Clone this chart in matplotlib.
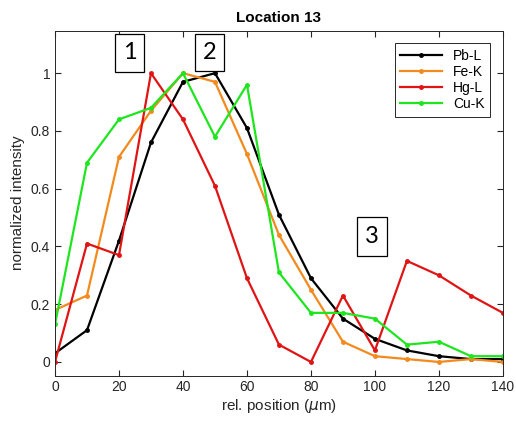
import numpy as np
import matplotlib
matplotlib.use("Agg")
import matplotlib.pyplot as plt
from matplotlib.patches import Rectangle

plt.rcParams['font.family'] = ['Liberation Sans', 'DejaVu Sans']

# values
position = [0, 10, 20, 30, 40, 50, 60, 70, 80, 90, 100, 110, 120, 130, 140]
pb_l = [0.03, 0.11, 0.42, 0.76, 0.97, 1.00, 0.81, 0.51, 0.29, 0.15, 0.08, 0.04, 0.02, 0.01, 0.01]
fe_k = [0.18, 0.23, 0.71, 0.87, 1.00, 0.97, 0.72, 0.44, 0.25, 0.07, 0.02, 0.01, 0.00, 0.01, 0.00]
hg_l = [0.00, 0.41, 0.37, 1.00, 0.84, 0.61, 0.29, 0.06, 0.00, 0.23, 0.04, 0.35, 0.30, 0.23, 0.17]
cu_k = [0.13, 0.69, 0.84, 0.88, 1.00, 0.78, 0.96, 0.31, 0.17, 0.17, 0.15, 0.06, 0.07, 0.02, 0.02]

series = [("Pb-L", pb_l, "black"),
          ("Fe-K", fe_k, "#f28a1e"),
          ("Hg-L", hg_l, "#e01414"),
          ("Cu-K", cu_k, "#1ee61e")]

# region labels: (text, x0, x1, y0, y1) in data units
regions = [("1", 18.75, 27.9, 1.005, 1.135),
           ("2", 43.75, 52.8, 1.009, 1.136),
           ("3", 94.4, 103.75, 0.367, 0.502)]

fig = plt.figure(figsize=(5.16, 4.21), dpi=100)
ax = fig.add_axes([0.1066, 0.108, 0.868, 0.819])

for name, vals, col in series:
    ax.plot(position, vals, color=col, lw=1.6, marker='o', ms=2.5, label=name)

for txt, x0, x1, y0, y1 in regions:
    ax.add_patch(Rectangle((x0, y0), x1 - x0, y1 - y0, fc='white', ec='black', lw=0.9, zorder=5))
    ax.text((x0 + x1) / 2, (y0 + y1) / 2, txt, fontsize=17, family=['Lato', 'DejaVu Sans'],
            ha='center', va='center', zorder=6)

ax.set_xlim(0, 140)
ax.set_ylim(-0.047, 1.147)
ax.set_xticks(np.arange(0, 141, 20))
ax.set_yticks([0, 0.2, 0.4, 0.6, 0.8, 1.0])
ax.set_yticklabels(["0", "0.2", "0.4", "0.6", "0.8", "1"])
ax.tick_params(direction='in', top=True, right=True, labelsize=10, colors='#262626', length=4)
for s in ax.spines.values():
    s.set_color('#262626')
    s.set_linewidth(0.7)

ax.set_title("Location 13", fontsize=11, fontweight='bold', pad=6)
ax.set_xlabel(r"rel. position ($\mu$m)", fontsize=11, color='#262626', labelpad=2)
ax.set_ylabel("normalized intensity", fontsize=11, color='#262626', labelpad=4)

leg = ax.legend(loc='upper right', fontsize=10, fancybox=False, edgecolor='#262626',
                framealpha=1, handlelength=3.0, borderaxespad=0.9, labelspacing=0.15)
leg.get_frame().set_linewidth(0.7)

fig.savefig("out.png", dpi=100)
